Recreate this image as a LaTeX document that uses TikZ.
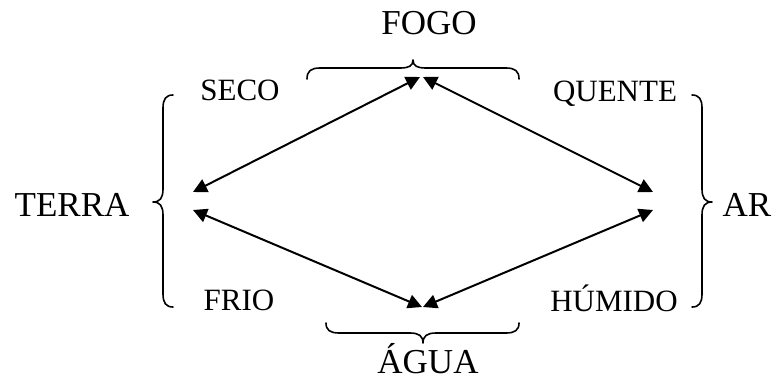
\documentclass[tikz,border=0pt]{standalone}
\usepackage{fontspec}
\setmainfont{Liberation Serif}
\usetikzlibrary{arrows.meta}
\tikzset{
  biglbl/.style={anchor=base, inner sep=0pt, font=\fontsize{35}{40}\selectfont},
  smalllbl/.style={anchor=base, inner sep=0pt, font=\fontsize{31}{36}\selectfont},
  bracepath/.style={line width=1.6pt, line cap=round, line join=round},
  dblarrow/.style={line width=2pt, {Triangle[length=14pt,width=14pt]}-{Triangle[length=14pt,width=14pt]}}
}
\begin{document}
\begin{tikzpicture}[x=1pt,y=-1pt]
\useasboundingbox (0,0) rectangle (776,383);
% labels
\node[biglbl] (fogo) at (429,34) {FOGO};
\node[biglbl] (agua) at (428,373) {ÁGUA};
\node[biglbl] (terra) at (72,216) {TERRA};
\node[biglbl] (ar) at (747,216) {AR};
\node[smalllbl] (seco) at (240,100) {SECO};
\node[smalllbl] (quente) at (615,101) {QUENTE};
\node[smalllbl] (frio) at (239,310) {FRIO};
\node[smalllbl] (humido) at (614,311) {HÚMIDO};
% arrow end points
\coordinate (tl) at (420,77);
\coordinate (tr) at (423,77);
\coordinate (lu) at (193,192);
\coordinate (ll) at (193,210);
\coordinate (ru) at (653,192);
\coordinate (rl) at (653,210);
\coordinate (bl) at (422,307);
\coordinate (br) at (423,307);
\draw[dblarrow] (lu) -- (tl);
\draw[dblarrow] (tr) -- (ru);
\draw[dblarrow] (ll) -- (bl);
\draw[dblarrow] (br) -- (rl);
% top brace
\draw[bracepath] (307,79) .. controls (307,71) and (311,68) .. (320,68) -- (400,68)
  .. controls (409,68) and (413,66) .. (413,60) .. controls (413,66) and (417,68) .. (426,68) -- (506,68)
  .. controls (515,68) and (519,71) .. (519,79);
% bottom brace
\draw[bracepath] (326,323) .. controls (326,330) and (330,333) .. (339,333) -- (410,333)
  .. controls (419,333) and (423,336) .. (423,343) .. controls (423,336) and (427,333) .. (436,333) -- (506,333)
  .. controls (515,333) and (519,330) .. (519,323);
% left brace
\draw[bracepath] (173,95) .. controls (166,95) and (163,99) .. (163,108) -- (163,189)
  .. controls (163,198) and (160,202) .. (153,202) .. controls (160,202) and (163,206) .. (163,215) -- (163,294)
  .. controls (163,303) and (166,307) .. (173,307);
% right brace
\draw[bracepath] (692,95) .. controls (699,95) and (702,99) .. (702,108) -- (702,189)
  .. controls (702,198) and (705,202) .. (712,202) .. controls (705,202) and (702,206) .. (702,215) -- (702,294)
  .. controls (702,303) and (699,307) .. (692,307);
\end{tikzpicture}
\end{document}
